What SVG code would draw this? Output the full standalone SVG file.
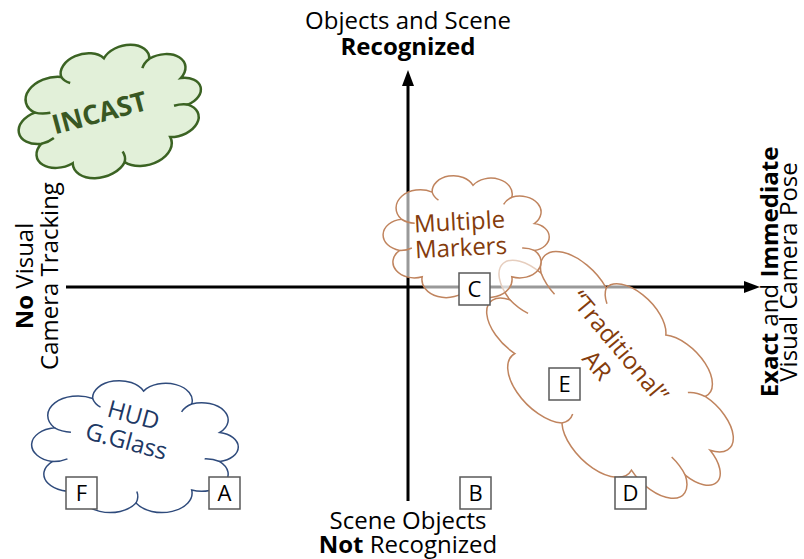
<svg xmlns="http://www.w3.org/2000/svg" xmlns:xlink="http://www.w3.org/1999/xlink" width="804" height="559" viewBox="0 0 804 559">
<style>
text{font-family:"Open Sans","Noto Sans","Liberation Sans",sans-serif;font-size:24px;fill:#000}
.b{font-weight:bold}
.axis{stroke:#000;stroke-width:3;fill:none}
.head{fill:#000}
.box{fill:#fff;stroke:#595959;stroke-width:1.5}
.bx{font-size:22px}
.lbl{text-anchor:middle}
.cl-green{fill:#e2f0d9;stroke:#3b6323;stroke-width:2.5}
.cl-brown{fill:#fff;fill-opacity:0.6;stroke:#c0845e;stroke-width:1.5}
.cl-navy{fill:#fff;fill-opacity:0.6;stroke:#2f4b7c;stroke-width:1.5}
.hk-green{fill:none;stroke:#3b6323;stroke-width:2.5}
.hk-brown{fill:none;stroke:#c0845e;stroke-width:1.5}
.hk-navy{fill:none;stroke:#2f4b7c;stroke-width:1.5}
.t-green{fill:#385723;font-weight:bold;font-size:27px}
.t-brown{fill:#843c0c}
.t-navy{fill:#203864}
</style>
<defs>
<path id="cloud" vector-effect="non-scaling-stroke" d="M -79.9 -29.1 A 29.6 29.6 0 0 1 -42.5 -73.6 A 26 26 0 0 1 7.4 -84.7 A 26 26 0 0 1 54.6 -65.1 A 26 26 0 0 1 82.1 -22 A 22.4 22.4 0 0 1 82.1 22 A 26 26 0 0 1 54.6 65.1 A 29.6 29.6 0 0 1 0 85 A 29.6 29.6 0 0 1 -54.6 65.1 A 26 26 0 0 1 -82.1 22 A 26 26 0 0 1 -79.9 -29.1 Z"/>
<path id="hooks" vector-effect="non-scaling-stroke" d="M -42.5 -73.6 A 25.6 25.6 0 0 0 -34.8 -60.3 M 54.6 -65.1 A 25.6 25.6 0 0 0 44.7 -53.3 M 82.1 22 A 25.6 25.6 0 0 0 67.3 18 M 0 85 A 29.1 29.1 0 0 0 0.8 67.5 M -82.1 22 A 25.6 25.6 0 0 0 -67.2 18 M -79.9 -29.1 A 29.1 29.1 0 0 0 -63.8 -22.4"/>
</defs>
<rect width="804" height="559" fill="#fff"/>

<g id="axes">
<line class="axis" x1="408" y1="501" x2="408" y2="84"/>
<polygon class="head" points="408,70 402,86 414,86"/>
<line class="axis" x1="66" y1="287" x2="746" y2="287"/>
<polygon class="head" points="760,287 744,281 744,293"/>
</g>

<g id="axis-labels">
<text class="lbl" x="408" y="29">Objects and Scene</text>
<text class="lbl b" x="408" y="55">Recognized</text>
<text class="lbl" x="408" y="529">Scene Objects</text>
<text class="lbl" x="408" y="553"><tspan class="b">Not</tspan> Recognized</text>
<text class="lbl" transform="translate(33,276) rotate(-90)"><tspan class="b">No</tspan> Visual</text>
<text class="lbl" transform="translate(58,276) rotate(-90)">Camera Tracking</text>
<text class="lbl" transform="translate(778,272) rotate(-90)"><tspan class="b">Exact</tspan> and <tspan class="b">Immediate</tspan></text>
<text class="lbl" transform="translate(797,272) rotate(-90)">Visual Camera Pose</text>
</g>

<g id="incast">
<g transform="translate(111,111) rotate(-15) scale(0.925,0.623)">
<use xlink:href="#cloud" class="cl-green"/>
<use xlink:href="#hooks" class="hk-green"/>
</g>
<text class="lbl t-green" transform="translate(102,122) rotate(-15)">INCAST</text>
</g>

<g id="hud">
<g transform="translate(136,447) scale(1.02,0.66)">
<use xlink:href="#cloud" class="cl-navy"/>
<use xlink:href="#hooks" class="hk-navy"/>
</g>
<g transform="translate(130,428) rotate(15)">
<text class="lbl t-navy" x="0" y="-5">HUD</text>
<text class="lbl t-navy" x="0" y="22">G.Glass</text>
</g>
</g>

<g id="traditional-ar">
<g transform="translate(610,375) rotate(45) scale(1.51,0.8)">
<use xlink:href="#cloud" class="cl-brown"/>
<use xlink:href="#hooks" class="hk-brown"/>
</g>
<g transform="translate(619,347) rotate(50)">
<text class="lbl t-brown" x="0" y="8">“Traditional”</text>
<text class="lbl t-brown" x="0" y="37">AR</text>
</g>
</g>

<g id="multiple-markers">
<g transform="translate(467,237) scale(0.82,0.61)">
<use xlink:href="#cloud" class="cl-brown"/>
<use xlink:href="#hooks" class="hk-brown"/>
</g>
<g transform="translate(460,230) rotate(-3)">
<text class="lbl t-brown" x="0" y="0">Multiple</text>
<text class="lbl t-brown" x="0" y="26">Markers</text>
</g>
</g>

<g id="box-A"><rect class="box" x="209" y="477" width="31" height="32"/><text class="lbl bx" x="224.5" y="501">A</text></g>
<g id="box-B"><rect class="box" x="460" y="477" width="31" height="32"/><text class="lbl bx" x="475.5" y="501">B</text></g>
<g id="box-C"><rect class="box" x="459" y="273" width="31" height="32"/><text class="lbl bx" x="474.5" y="297">C</text></g>
<g id="box-D"><rect class="box" x="615" y="477" width="31" height="32"/><text class="lbl bx" x="630.5" y="501">D</text></g>
<g id="box-E"><rect class="box" x="549" y="368" width="31" height="32"/><text class="lbl bx" x="564.5" y="392">E</text></g>
<g id="box-F"><rect class="box" x="66" y="477" width="31" height="32"/><text class="lbl bx" x="81.5" y="501">F</text></g>
</svg>
